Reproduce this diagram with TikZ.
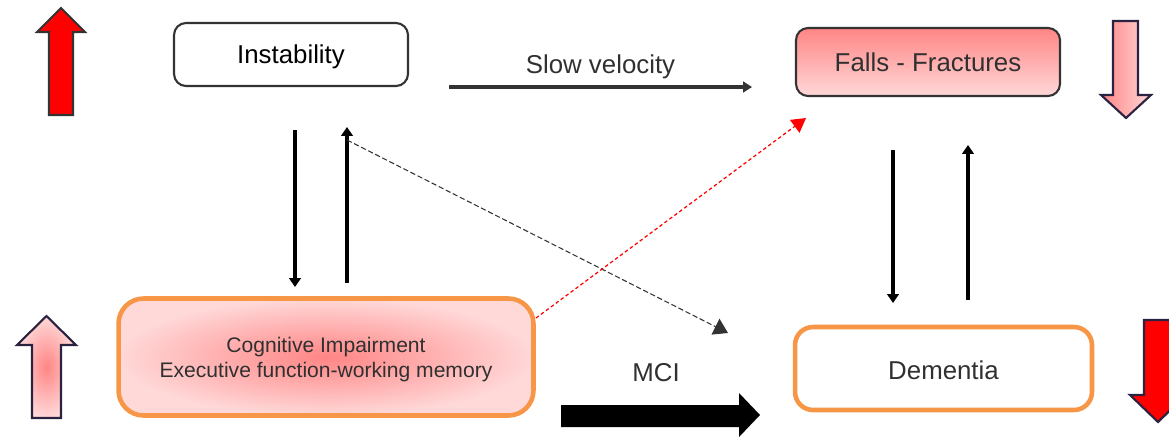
\documentclass[tikz,border=0pt]{standalone}
\usepackage{fontspec}
\setmainfont{Liberation Sans}
\usetikzlibrary{arrows.meta}
\usetikzlibrary{shapes}

\definecolor{boxorange}{HTML}{F79646}
\definecolor{boxgray}{HTML}{333333}
\definecolor{arrowedge}{HTML}{2B2140}
\definecolor{txtgray}{HTML}{303030}
\definecolor{pinkdark}{HTML}{FF8585}
\definecolor{pinklight}{HTML}{FFD8D8}

\begin{document}
\begin{tikzpicture}[x=0.02cm, y=-0.02cm,
				   every node/.style={font=\fontsize{14.7}{17}\selectfont, text=txtgray, align=center},
				   plainbox/.style={draw=boxgray, line width=1.2pt, rounded corners=0.24cm},
				   orangebox/.style={draw=boxorange, line width=2.6pt},
				   thinarrow/.style={line width=2.8pt, -{Triangle[length=5pt,width=6.5pt]}},
				   blockarrow/.style={draw=arrowedge, line width=1.2pt, line join=miter}]
\useasboundingbox (0,0) rectangle (1169,437);
\clip (0,0) rectangle (1169,437);

\draw[blockarrow, draw=boxgray, fill=red] (49,115) -- (49,32) -- (37,32) -- (61,8) -- (85,32) -- (73,32) -- (73,115) -- cycle;
\shadedraw[blockarrow, inner color=pinkdark, outer color=pinklight] (32,418) -- (32,345) -- (17,345) -- (46.5,316) -- (76,345) -- (61,345) -- (61,418) -- cycle;
\shadedraw[blockarrow, left color=pinkdark, right color=pinklight] (1113,21) -- (1113,95) -- (1101,95) -- (1126,118) -- (1151,95) -- (1138,95) -- (1138,21) -- cycle;
\draw[blockarrow, fill=red] (1144,320) -- (1144,395) -- (1130,395) -- (1158,422) -- (1186,395) -- (1172,395) -- (1172,320) -- cycle;

\node[plainbox, fill=white, text=black, text height=10.7pt, text depth=0pt, minimum width=4.68cm, minimum height=1.26cm] (inst) at (291,54.5) {Instability};
\node[plainbox, top color=pinkdark, bottom color=pinklight, minimum width=5.28cm, minimum height=1.36cm] (falls) at (928,62) {Falls - Fractures};
\node[orangebox, rounded corners=0.5cm, inner color=pinkdark, outer color=pinklight, minimum width=8.3cm, minimum height=2.34cm,
	text depth=0pt, font=\fontsize{12}{14.2}\selectfont] (cog) at (326,357) {Cognitive Impairment\\Executive function-working memory};
\node[orangebox, rounded corners=0.36cm, fill=white, text height=13pt, text depth=0pt, minimum width=5.94cm, minimum height=1.66cm] (dem) at (943.5,368.5) {Dementia};

\coordinate (instdown1) at (295,130);
\coordinate (instdown2) at (295,287);
\coordinate (instup1) at (347,283);
\coordinate (instup2) at (347,127);
\coordinate (falldown1) at (893,150);
\coordinate (falldown2) at (893,303);
\coordinate (fallup1) at (968,300);
\coordinate (fallup2) at (968,145);
\coordinate (slow1) at (449,87);
\coordinate (slow2) at (752,87);
\coordinate (dash1) at (347,140);
\coordinate (dash2) at (728,333);
\coordinate (red1) at (536,318);
\coordinate (red2) at (806,118);

\draw[thinarrow] (instdown1) -- (instdown2);
\draw[thinarrow] (instup1) -- (instup2);
\draw[thinarrow] (falldown1) -- (falldown2);
\draw[thinarrow] (fallup1) -- (fallup2);
\draw[draw=boxgray, line width=2.3pt, -{Triangle[length=5pt,width=6pt]}] (slow1) -- (slow2)
	node[midway, above] (slowlbl) {Slow velocity};
\draw[draw=boxgray, line width=0.6pt, dash pattern=on 3pt off 1.5pt, -{Triangle[length=8pt,width=10pt]}] (dash1) -- (dash2);
\draw[draw=red, line width=0.7pt, dash pattern=on 2pt off 1.5pt, -{Triangle[length=8pt,width=9pt]}] (red1) -- (red2);

\fill[black] (561,405) -- (739,405) -- (739,393) -- (760,415) -- (739,437) -- (739,427) -- (561,427) -- cycle;
\node (mcilbl) at (656,373) {MCI};
\end{tikzpicture}
\end{document}
